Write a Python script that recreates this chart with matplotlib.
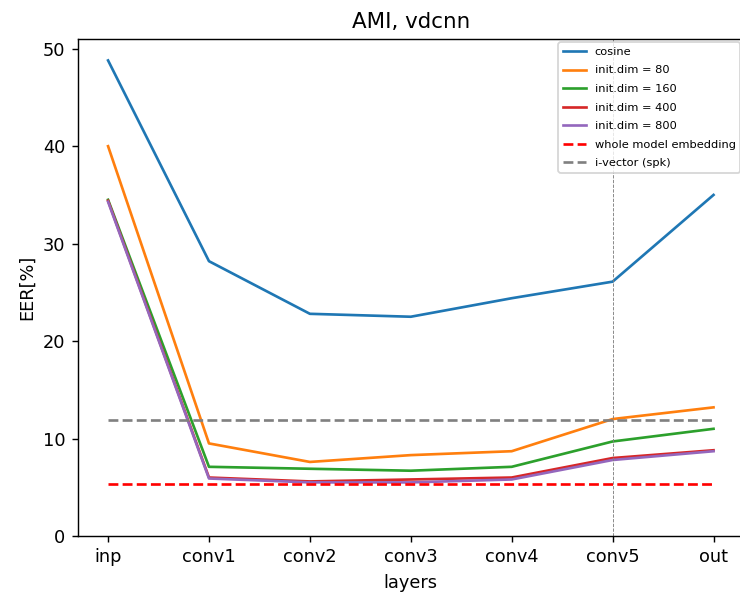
import matplotlib
matplotlib.use("Agg")
import matplotlib.pyplot as plt

layers = ["inp", "conv1", "conv2", "conv3", "conv4", "conv5", "out"]
cosine = [48.8, 28.2, 22.8, 22.5, 24.4, 26.1, 35.0]
dim80 = [40.0, 9.5, 7.6, 8.3, 8.7, 12.0, 13.2]
dim160 = [34.5, 7.1, 6.9, 6.7, 7.1, 9.7, 11.0]
dim400 = [34.4, 6.0, 5.6, 5.8, 6.0, 8.0, 8.8]
dim800 = [34.3, 5.9, 5.5, 5.5, 5.8, 7.8, 8.7]
whole_model_eer = 5.3
ivector_eer = 11.9
marked_layer = "conv5"

W, H, DPI = 740, 594, 128
fig = plt.figure(figsize=(W / DPI, H / DPI), dpi=DPI)
ax = fig.add_axes([77.8 / W, (H - 536) / H, 666 / W, (536 - 39) / H])

x = list(range(len(layers)))
ax.plot(x, cosine, label="cosine")
ax.plot(x, dim80, label="init.dim = 80")
ax.plot(x, dim160, label="init.dim = 160")
ax.plot(x, dim400, label="init.dim = 400")
ax.plot(x, dim800, label="init.dim = 800")
ax.hlines(whole_model_eer, 0, len(layers) - 1, colors="red", linestyles="--",
          label="whole model embedding")
ax.hlines(ivector_eer, 0, len(layers) - 1, colors="gray", linestyles="--",
          label="i-vector (spk)")
ax.axvline(layers.index(marked_layer), color="gray", linestyle="--", linewidth=0.5)

ax.set_xticks(x)
ax.set_xticklabels(layers)
ax.set_xlim(-0.3, len(layers) - 1 + 0.3)
ax.set_ylim(0, 51)
ax.set_xlabel("layers")
ax.set_ylabel("EER[%]")
ax.set_title("AMI, vdcnn")
ax.legend(loc="upper right", fontsize=6.4, labelspacing=0.75, borderaxespad=0.3)

fig.savefig("out.png", dpi=DPI)
